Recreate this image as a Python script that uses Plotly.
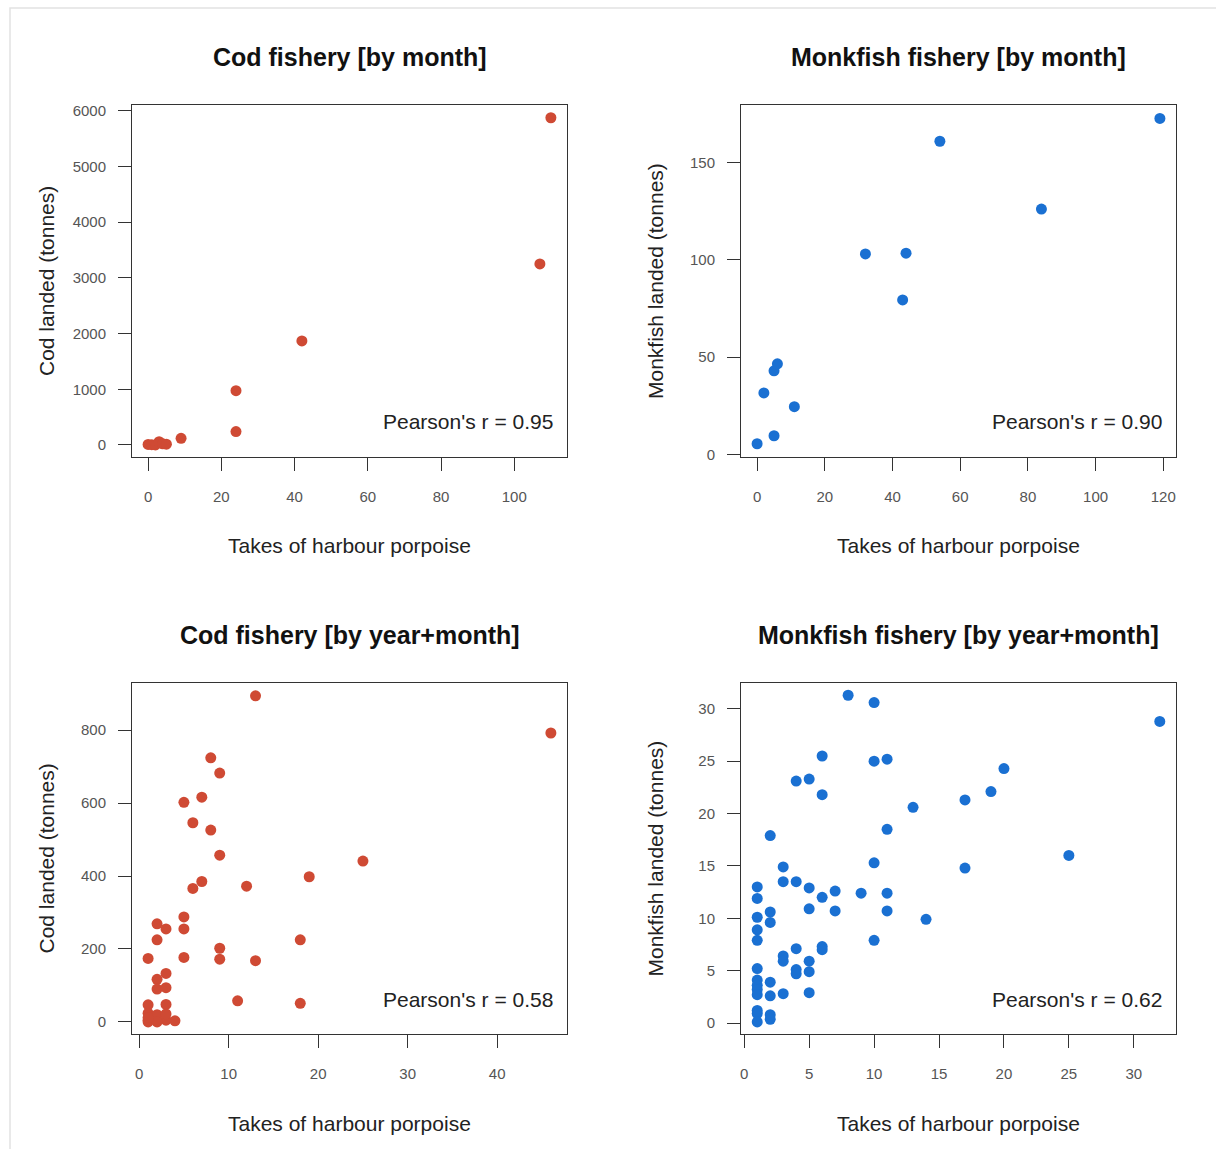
import plotly.graph_objects as go

W, H = 1216, 1149
RED = "#cf4a34"
BLUE = "#1a70d2"

# ---- data ----
cod_month_takes = [0, 1, 2, 3, 4, 5, 9, 24, 24, 42, 107, 110]
cod_month_landed = [10, 5, 0, 60, 20, 15, 120, 975, 240, 1868, 3250, 5874]

monk_month_takes = [0, 2, 5, 6, 5, 11, 32, 44, 43, 54, 84, 119]
monk_month_landed = [5.6, 31.7, 43, 46.6, 9.7, 24.6, 103, 103.4, 79.4, 160.8, 126, 172.5]

cod_ym_takes = [13, 8, 9, 5, 7, 6, 8, 9, 25, 19, 7, 6, 12, 5, 5, 2, 3, 2, 18, 9, 9, 1, 5, 13,
                3, 2, 2, 3, 11, 18, 1, 3, 46, 1, 1, 1, 2, 2, 3, 3, 4, 2, 1]
cod_ym_landed = [894, 724, 682, 602, 616, 546, 526, 457, 441, 398, 385, 366, 372, 288, 255, 269,
                 255, 225, 225, 202, 172, 174, 177, 168, 133, 117, 90, 94, 58, 51, 47, 48, 792,
                 24, 5, 0, 5, 20, 5, 22, 3, 0, 12]

monk_ym_takes = [8, 10, 6, 10, 11, 4, 5, 6, 13, 11, 2, 10, 3, 1, 3, 4, 5, 7, 6, 9, 11, 1, 2, 2,
                 1, 5, 7, 11, 14, 1, 1, 10, 6, 6, 4, 3, 3, 5, 4, 4, 5, 1, 1, 1, 1, 1, 2, 2, 3,
                 5, 1, 1, 2, 2, 1, 17, 19, 20, 17, 25, 32]
monk_ym_landed = [31.3, 30.6, 25.5, 25.0, 25.2, 23.1, 23.3, 21.8, 20.6, 18.5, 17.9, 15.3, 14.9,
                  13.0, 13.5, 13.5, 12.9, 12.6, 12.0, 12.4, 12.4, 11.9, 10.6, 9.6, 10.1, 10.9,
                  10.7, 10.7, 9.9, 8.9, 7.9, 7.9, 7.3, 7.0, 7.1, 6.4, 5.9, 5.9, 5.1, 4.7, 4.9,
                  5.2, 4.1, 3.6, 3.2, 2.7, 3.9, 2.6, 2.8, 2.9, 1.2, 0.9, 0.8, 0.35, 0.1, 21.3,
                  22.1, 24.3, 14.8, 16.0, 28.8]

titles = ["Cod fishery [by month]", "Monkfish fishery [by month]",
          "Cod fishery [by year+month]", "Monkfish fishery [by year+month]"]
ylabels = ["Cod landed (tonnes)", "Monkfish landed (tonnes)",
           "Cod landed (tonnes)", "Monkfish landed (tonnes)"]
xlabel = "Takes of harbour porpoise"
pearson = ["Pearson's r = 0.95", "Pearson's r = 0.90",
           "Pearson's r = 0.58", "Pearson's r = 0.62"]

panels = [
    dict(x=cod_month_takes, y=cod_month_landed, c=RED,
         xr=[-4.4, 114.4], yr=[-216, 6103], xt=[0, 20, 40, 60, 80, 100],
         yt=[0, 1000, 2000, 3000, 4000, 5000, 6000], box=(132, 567, 105, 457)),
    dict(x=monk_month_takes, y=monk_month_landed, c=BLUE,
         xr=[-4.76, 123.76], yr=[-1.2, 179.4], xt=[0, 20, 40, 60, 80, 100, 120],
         yt=[0, 50, 100, 150], box=(741, 1176, 105, 457)),
    dict(x=cod_ym_takes, y=cod_ym_landed, c=RED,
         xr=[-0.8, 47.8], yr=[-33, 929], xt=[0, 10, 20, 30, 40],
         yt=[0, 200, 400, 600, 800], box=(132, 567, 683, 1034)),
    dict(x=monk_ym_takes, y=monk_ym_landed, c=BLUE,
         xr=[-0.25, 33.25], yr=[-1.05, 32.47], xt=[0, 5, 10, 15, 20, 25, 30],
         yt=[0, 5, 10, 15, 20, 25, 30], box=(741, 1176, 683, 1034)),
]

FONT = "Liberation Sans, Arial, Helvetica, sans-serif"
fig = go.Figure()
annotations = []
for i, p in enumerate(panels):
    n = "" if i == 0 else str(i + 1)
    x0, x1, y0, y1 = p["box"]
    fig.add_trace(go.Scatter(
        x=p["x"], y=p["y"], mode="markers", xaxis="x" + n, yaxis="y" + n,
        marker=dict(size=11, color=p["c"], line=dict(width=0)),
        showlegend=False, hoverinfo="x+y"))
    axcommon = dict(showgrid=False, zeroline=False, showline=True, mirror=True,
                    linecolor="#333333", linewidth=1, ticks="outside", ticklen=13,
                    tickwidth=1, tickcolor="#333333",
                    tickfont=dict(family=FONT, size=15, color="#555555"),
                    automargin=False)
    fig.update_layout(**{
        "xaxis" + n: dict(axcommon, domain=[x0 / W, x1 / W], range=p["xr"],
                          tickvals=p["xt"], anchor="y" + n, ticklabelstandoff=13),
        "yaxis" + n: dict(axcommon, domain=[1 - y1 / H, 1 - y0 / H], range=p["yr"],
                          tickvals=p["yt"], anchor="x" + n, ticklabelstandoff=9),
    })
    cx = (x0 + x1) / 2
    # panel title
    annotations.append(dict(text="<b>" + titles[i] + "</b>", xref="paper", yref="paper",
                            x=cx / W, y=1 - (y0 - 48) / H, xanchor="center", yanchor="middle",
                            showarrow=False, font=dict(family=FONT, size=25, color="#111111")))
    # x label
    annotations.append(dict(text=xlabel, xref="paper", yref="paper",
                            x=cx / W, y=1 - (y1 + 89) / H, xanchor="center", yanchor="middle",
                            showarrow=False, font=dict(family=FONT, size=21, color="#222222")))
    # y label
    annotations.append(dict(text=ylabels[i], xref="paper", yref="paper", textangle=-90,
                            x=(x0 - 86) / W, y=1 - ((y0 + y1) / 2) / H,
                            xanchor="center", yanchor="middle",
                            showarrow=False, font=dict(family=FONT, size=21, color="#222222")))
    # pearson
    annotations.append(dict(text=pearson[i], xref="x" + n + " domain", yref="y" + n + " domain",
                            x=(x1 - 12 - x0) / (x1 - x0), y=35 / (y1 - y0),
                            xanchor="right", yanchor="middle",
                            showarrow=False, font=dict(family=FONT, size=21, color="#222222")))

fig.update_layout(
    width=W, height=H, margin=dict(l=0, r=0, t=0, b=0),
    paper_bgcolor="white", plot_bgcolor="white",
    annotations=annotations,
    shapes=[dict(type="rect", xref="paper", yref="paper",
                 x0=10 / W, x1=1.02, y0=-0.02, y1=1 - 8 / H,
                 line=dict(color="#e2e2e2", width=1.5), layer="below")],
)

fig.write_html("out.html")
